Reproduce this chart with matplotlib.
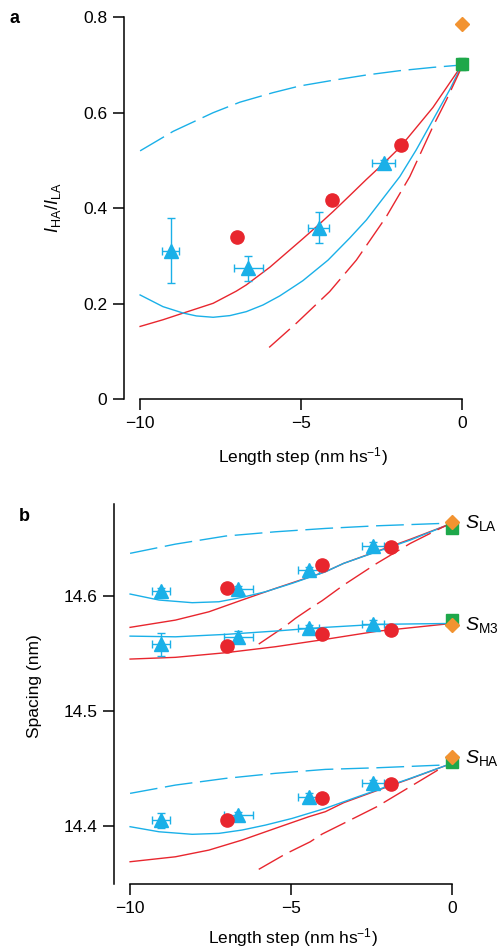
import matplotlib
matplotlib.use("Agg")
import matplotlib.pyplot as plt

plt.rcParams['font.family'] = ['Liberation Sans', 'DejaVu Sans']
plt.rcParams['mathtext.fontset'] = 'custom'
plt.rcParams['mathtext.rm'] = 'Liberation Sans'
plt.rcParams['mathtext.it'] = 'Liberation Sans:italic'
plt.rcParams['mathtext.bf'] = 'Liberation Sans:bold'

RED = '#e8262e'
BLUE = '#1ab0e8'
ORANGE = '#f29331'
GREEN = '#1ea84a'

# ---- panel a data: intensity ratio I_HA/I_LA ----
a_red_x = [-7.0, -4.03, -1.88]
a_red_y = [0.340, 0.417, 0.533]
a_red_yerr = [0.0, 0.010, 0.010]
a_red_xerr = [0.0, 0.15, 0.15]

a_blue_x = [-9.05, -6.64, -4.45, -2.43]
a_blue_y = [0.311, 0.274, 0.359, 0.495]
a_blue_yerr = [0.068, 0.026, 0.033, 0.006]
a_blue_xerr = [0.27, 0.45, 0.32, 0.35]

a_green = (0.0, 0.702, 0.012)
a_orange = (0.0, 0.786)

a_bdash_x = [-10, -8.97, -7.73, -6.9, -5.87, -5.04, -4.0, -2.97, -1.94, -0.9, 0]
a_bdash_y = [0.52, 0.561, 0.600, 0.622, 0.642, 0.656, 0.668, 0.679, 0.688, 0.695, 0.70]
a_rsol_x = [-10, -9.29, -8.66, -7.73, -7.01, -6.70, -5.97, -4.94, -4.47, -4.0, -3.49,
            -2.97, -2.43, -1.93, -0.9, -0.17, 0]
a_rsol_y = [0.152, 0.166, 0.180, 0.2005, 0.226, 0.239, 0.276, 0.336, 0.364, 0.393, 0.426,
            0.460, 0.494, 0.527, 0.611, 0.683, 0.70]
a_bsol_x = [-10, -9.29, -8.66, -8.25, -7.73, -7.21, -6.70, -6.18, -5.66, -5.14, -4.94,
            -4.16, -3.49, -2.97, -1.93, -1.42, -0.9, -0.38, 0]
a_bsol_y = [0.218, 0.1935, 0.180, 0.174, 0.1712, 0.1747, 0.183, 0.197, 0.216, 0.239, 0.248,
            0.291, 0.337, 0.375, 0.466, 0.522, 0.585, 0.648, 0.70]
a_rdash_x = [-5.99, -5.14, -4.11, -3.28, -2.35, -1.62, -0.9, -0.48, -0.12, 0]
a_rdash_y = [0.108, 0.159, 0.225, 0.291, 0.382, 0.466, 0.571, 0.627, 0.679, 0.697]

# ---- panel b data: spacings (nm) ----
b_x_red = [-6.98, -4.03, -1.89]
b_x_blue = [-9.04, -6.63, -4.45, -2.45]
b_blue_xerr = [0.27, 0.45, 0.32, 0.35]
b_red_xerr = [0.0, 0.15, 0.15]
b_red_yerr = [0.0, 0.002, 0.002]

la_red = [14.6069, 14.6266, 14.6419]
la_blue = [14.604, 14.6055, 14.6223, 14.6436]
la_blue_yerr = [0.003, 0.003, 0.003, 0.003]
m3_red = [14.556, 14.5668, 14.5705]
m3_blue = [14.5578, 14.5644, 14.5717, 14.5757]
m3_blue_yerr = [0.010, 0.005, 0.003, 0.003]
ha_red = [14.4055, 14.4249, 14.4367]
ha_blue = [14.4055, 14.4098, 14.4257, 14.4373]
ha_blue_yerr = [0.0065, 0.003, 0.003, 0.003]

b_green = [14.6585, 14.5789, 14.4560]
b_orange = [14.6642, 14.5746, 14.4604]

la_bdash_x = [-10, -8.59, -7.03, -5.48, -3.93, -2.33, -0.26, 0]
la_bdash_y = [14.6368, 14.6448, 14.6518, 14.6555, 14.6584, 14.6607, 14.6628, 14.663]
la_bsol_x = [-10, -9.10, -8.07, -7.24, -6.52, -5.79, -4.96, -3.93, -3.36, -2.33, -1.29, 0]
la_bsol_y = [14.6015, 14.5963, 14.594, 14.5948, 14.5986, 14.6035, 14.6108, 14.6208,
             14.6281, 14.6382, 14.6483, 14.6628]
la_rsol_x = [-10, -8.59, -7.55, -6.52, -5.48, -4.45, -3.93, -3.36, -2.33, -1.29, 0]
la_rsol_y = [14.5726, 14.5789, 14.5861, 14.5963, 14.6064, 14.616, 14.6208, 14.6281,
             14.6385, 14.649, 14.6628]
la_rdash_x = [-6.0, -5.17, -4.86, -4.40, -4.03, -3.36, -2.33, -1.29, -0.26, 0]
la_rdash_y = [14.5581, 14.5737, 14.5804, 14.5891, 14.5957, 14.6093, 14.6281, 14.6454,
              14.6598, 14.6628]

m3_bsol_x = [-10, -8.59, -7.03, -5.48, -4.40, -3.93, -2.33, 0]
m3_bsol_y = [14.565, 14.5644, 14.5665, 14.5694, 14.5717, 14.5726, 14.5752, 14.576]
m3_rsol_x = [-10, -8.59, -7.03, -5.48, -3.93, -2.33, 0]
m3_rsol_y = [14.5451, 14.5466, 14.5506, 14.5558, 14.5622, 14.5692, 14.576]

ha_bdash_x = [-10, -8.59, -7.03, -5.48, -3.93, -2.33, -0.26, 0]
ha_bdash_y = [14.4286, 14.4358, 14.4416, 14.446, 14.4494, 14.4508, 14.4532, 14.4535]
ha_bsol_x = [-10, -9.10, -8.07, -7.24, -6.52, -5.79, -4.96, -3.93, -3.36, -2.33, -1.29, 0]
ha_bsol_y = [14.3997, 14.3953, 14.3931, 14.3939, 14.3968, 14.4011, 14.4069, 14.4156,
             14.4213, 14.4315, 14.4416, 14.4546]
ha_rsol_x = [-10, -8.59, -7.55, -6.52, -5.48, -4.45, -3.93, -3.36, -2.33, -1.29, 0]
ha_rsol_y = [14.3693, 14.3736, 14.3794, 14.3881, 14.3983, 14.4083, 14.4127, 14.4205,
             14.431, 14.4413, 14.4546]
ha_rdash_x = [-6.0, -5.17, -4.86, -4.40, -4.03, -3.36, -2.33, -1.29, -0.26]
ha_rdash_y = [14.3627, 14.376, 14.3803, 14.3866, 14.3933, 14.4026, 14.417, 14.4344, 14.4517]

x_ticks = [-10, -5, 0]
x_ticklabels = ['\u221210', '\u22125', '0']

DASH = (20, 5.5)
FS = 12.5

fig = plt.figure(figsize=(5, 9.49), dpi=100)
ax1 = fig.add_axes([0.248, 0.5796, 0.708, 0.4022])
ax2 = fig.add_axes([0.228, 0.0685, 0.7076, 0.4009])


def style_axes(ax):
    for s in ['top', 'right']:
        ax.spines[s].set_visible(False)
    for s in ['left', 'bottom']:
        ax.spines[s].set_linewidth(1.1)
    ax.spines['bottom'].set_bounds(-10, 0)
    ax.tick_params(direction='out', length=8, width=1.1, labelsize=FS, pad=4)
    ax.set_xlim(-10.5, 0.5)
    ax.set_xticks(x_ticks)
    ax.set_xticklabels(x_ticklabels)


def err_pts(ax, x, y, xerr, yerr, marker, color, ms):
    ax.errorbar(x, y, xerr=xerr, yerr=yerr, fmt=marker, color=color, ms=ms,
                mec=color, ecolor=color, elinewidth=1, capsize=3, capthick=1,
                zorder=4)


# ---- panel a ----
style_axes(ax1)
ax1.plot(a_bdash_x, a_bdash_y, color=BLUE, lw=1, dashes=DASH)
ax1.plot(a_rsol_x, a_rsol_y, color=RED, lw=1)
ax1.plot(a_bsol_x, a_bsol_y, color=BLUE, lw=1)
ax1.plot(a_rdash_x, a_rdash_y, color=RED, lw=1, dashes=DASH)
err_pts(ax1, a_red_x, a_red_y, a_red_xerr, a_red_yerr, 'o', RED, 9.5)
err_pts(ax1, a_blue_x, a_blue_y, a_blue_xerr, a_blue_yerr, '^', BLUE, 10)
ax1.errorbar([a_green[0]], [a_green[1]], yerr=[a_green[2]], fmt='s', color=GREEN,
             ms=8.5, elinewidth=1, capsize=3, zorder=4)
ax1.plot([a_orange[0]], [a_orange[1]], 'D', color=ORANGE, ms=7.5, zorder=4)
ax1.set_ylim(0, 0.8)
ax1.spines['left'].set_bounds(0, 0.8)
ax1.set_yticks([0, 0.2, 0.4, 0.6, 0.8])
ax1.set_yticklabels(['0', '0.2', '0.4', '0.6', '0.8'])
ax1.set_xlabel('Length step (nm hs$^{\u22121}$)', fontsize=FS)
ax1.set_ylabel('$I_{\\mathrm{HA}}/I_{\\mathrm{LA}}$', fontsize=13)
ax1.xaxis.set_label_coords(0.506, -0.12)
ax1.yaxis.set_label_coords(-0.172, 0.5)
fig.text(0.018, 0.981, 'a', fontsize=13, fontweight='bold', va='center')

# ---- panel b ----
style_axes(ax2)
for xs, ys, dashed, col in [
        (la_bdash_x, la_bdash_y, True, BLUE), (la_rsol_x, la_rsol_y, False, RED),
        (la_bsol_x, la_bsol_y, False, BLUE), (la_rdash_x, la_rdash_y, True, RED),
        (m3_rsol_x, m3_rsol_y, False, RED), (m3_bsol_x, m3_bsol_y, False, BLUE),
        (ha_bdash_x, ha_bdash_y, True, BLUE), (ha_rsol_x, ha_rsol_y, False, RED),
        (ha_bsol_x, ha_bsol_y, False, BLUE), (ha_rdash_x, ha_rdash_y, True, RED)]:
    if dashed:
        ax2.plot(xs, ys, color=col, lw=1, dashes=DASH)
    else:
        ax2.plot(xs, ys, color=col, lw=1)

zero3 = [0, 0, 0]
ax2.plot(zero3, b_green, 's', color=GREEN, ms=8.5, zorder=4)
ax2.plot(zero3, b_orange, 'D', color=ORANGE, ms=7.5, zorder=5)
for blue_y, blue_err, red_y in [(la_blue, la_blue_yerr, la_red),
                                (m3_blue, m3_blue_yerr, m3_red),
                                (ha_blue, ha_blue_yerr, ha_red)]:
    err_pts(ax2, b_x_blue, blue_y, b_blue_xerr, blue_err, '^', BLUE, 10)
    err_pts(ax2, b_x_red, red_y, b_red_xerr, b_red_yerr, 'o', RED, 9.5)

ax2.set_ylim(14.35, 14.68)
ax2.set_yticks([14.4, 14.5, 14.6])
ax2.set_yticklabels(['14.4', '14.5', '14.6'])
ax2.set_xlabel('Length step (nm hs$^{\u22121}$)', fontsize=FS)
ax2.set_ylabel('Spacing (nm)', fontsize=FS)
ax2.xaxis.set_label_coords(0.506, -0.111)
ax2.yaxis.set_label_coords(-0.204, 0.52)

for lab, yv in [('LA', 14.6627), ('M3', 14.5746), ('HA', 14.459)]:
    ax2.text(0.42, yv, '$S_{\\mathrm{%s}}$' % lab, fontsize=14, va='center',
             ha='left', clip_on=False)
fig.text(0.038, 0.456, 'b', fontsize=13, fontweight='bold', va='center')

fig.savefig('out.png', dpi=100)
